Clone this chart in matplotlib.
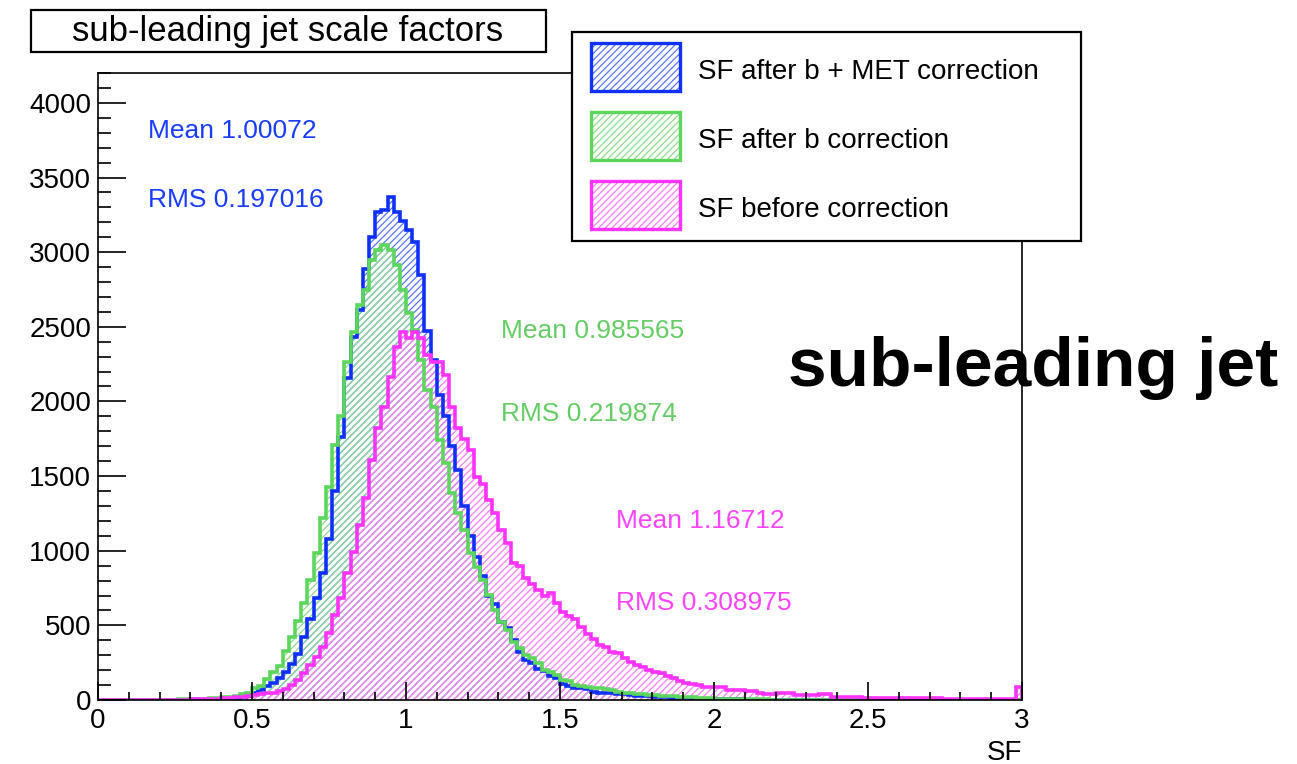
import numpy as np
import matplotlib
matplotlib.use('Agg')
import matplotlib.pyplot as plt
from matplotlib.patches import Rectangle
from matplotlib.ticker import MultipleLocator, FormatStrFormatter

plt.rcParams['font.family'] = ['Liberation Sans', 'DejaVu Sans']
plt.rcParams['hatch.linewidth'] = 0.9

W, H = 1297, 764

# histogram binning: 150 bins between 0 and 3
sf_min, sf_max, n_bins = 0.0, 3.0, 150

sf_after_b_met = [
    0, 0, 0, 0, 0, 0, 0, 0, 1, 1,
    1, 2, 2, 3, 3, 4, 5, 6, 8, 10,
    10, 12, 15, 18, 24, 50, 67, 95, 115, 150,
    190, 240, 310, 420, 540, 680, 850, 1080, 1400, 1760,
    2160, 2430, 2610, 2890, 3100, 3270, 3280, 3370, 3270, 3210,
    3150, 3070, 2850, 2470, 2280, 2040, 1900, 1700, 1540, 1300,
    1100, 960, 830, 700, 640, 520, 480, 400, 320, 265,
    245, 205, 195, 160, 150, 105, 95, 82, 78, 72,
    55, 50, 48, 45, 42, 38, 35, 30, 28, 25,
    22, 20, 18, 15, 14, 12, 10, 9, 8, 7,
    6, 5, 5, 4, 4, 3, 3, 3, 2, 2,
    2, 2, 1, 1, 1, 1, 1, 1, 1, 1,
    0, 0, 0, 0, 0, 0, 0, 0, 0, 0,
    0, 0, 0, 0, 0, 0, 0, 0, 0, 0,
    0, 0, 0, 0, 0, 0, 0, 0, 0, 3,
]

sf_after_b = [
    0, 0, 0, 0, 0, 0, 1, 1, 1, 2,
    2, 3, 3, 4, 5, 6, 7, 9, 11, 14,
    18, 22, 30, 40, 50, 80, 95, 140, 190, 230,
    330, 420, 530, 650, 805, 985, 1220, 1430, 1710, 1900,
    2265, 2466, 2647, 2747, 2948, 3015, 3050, 3015, 2915, 2747,
    2593, 2479, 2278, 2077, 1963, 1742, 1588, 1387, 1253, 1139,
    985, 891, 804, 703, 603, 523, 469, 389, 348, 301,
    280, 248, 201, 190, 168, 134, 125, 100, 95, 90,
    80, 78, 72, 65, 54, 50, 45, 40, 38, 35,
    32, 30, 27, 25, 22, 20, 18, 15, 13, 11,
    10, 9, 8, 7, 6, 5, 5, 4, 4, 3,
    3, 3, 2, 2, 2, 2, 1, 1, 1, 1,
    0, 0, 0, 0, 0, 0, 0, 0, 0, 0,
    0, 0, 0, 0, 0, 0, 0, 0, 0, 0,
    0, 0, 0, 0, 0, 0, 0, 0, 0, 3,
]

sf_before = [
    0, 0, 0, 0, 0, 0, 0, 1, 1, 1,
    2, 2, 2, 3, 3, 4, 5, 6, 8, 10,
    12, 15, 18, 22, 28, 35, 40, 45, 50, 62,
    75, 100, 134, 181, 235, 288, 355, 450, 570, 680,
    850, 990, 1170, 1350, 1610, 1820, 1960, 2164, 2365, 2466,
    2425, 2466, 2425, 2311, 2265, 2265, 2178, 1963, 1822, 1750,
    1675, 1494, 1450, 1340, 1250, 1139, 1050, 918, 900, 817,
    780, 740, 700, 717, 650, 590, 560, 545, 490, 440,
    410, 370, 355, 320, 315, 280, 255, 235, 220, 200,
    190, 180, 160, 145, 125, 115, 110, 100, 90, 87,
    87, 85, 70, 67, 65, 60, 62, 45, 42, 40,
    45, 45, 45, 33, 33, 33, 33, 38, 38, 22,
    22, 22, 22, 22, 15, 15, 15, 15, 15, 15,
    15, 12, 12, 12, 12, 12, 12, 10, 8, 7,
    7, 7, 7, 7, 7, 7, 7, 7, 7, 85,
]

series = [sf_after_b_met, sf_after_b, sf_before]
labels = ['SF after b + MET correction', 'SF after b correction', 'SF before correction']
means = ['1.00072', '0.985565', '1.16712']
rms_values = ['0.197016', '0.219874', '0.308975']
title = 'sub-leading jet scale factors'
tag = 'sub-leading jet'

line_colors = ['#1030ff', '#5cd65c', '#ff33ff']
hatch_colors = ['#5a74ff', '#8cdc8c', '#ff7cff']
text_colors = ['#1a3cff', '#66cc66', '#ff44ff']


def fx(x):
    return x / W


def fy(y):
    return 1 - y / H


fig = plt.figure(figsize=(W / 100, H / 100), dpi=100)
ax = fig.add_axes([fx(98), fy(700), 924 / W, 627 / H])

edges = np.linspace(sf_min, sf_max, n_bins + 1)
for vals, hc in zip(series, hatch_colors):
    ax.stairs(vals, edges, fill=True, facecolor='none', edgecolor=hc,
              hatch='/////', linewidth=0)
for vals, lc in zip(series, line_colors):
    ax.stairs(vals, edges, color=lc, linewidth=2.6)

ax.set_xlim(0, 3)
ax.set_ylim(0, 4200)
ax.xaxis.set_major_locator(MultipleLocator(0.5))
ax.xaxis.set_minor_locator(MultipleLocator(0.1))
ax.yaxis.set_major_locator(MultipleLocator(500))
ax.yaxis.set_minor_locator(MultipleLocator(100))
ax.xaxis.set_major_formatter(FormatStrFormatter('%g'))
ax.tick_params(which='both', direction='in', top=False, right=False, width=1.2)
ax.tick_params(axis='y', which='major', length=20, labelsize=20, pad=5)
ax.tick_params(axis='y', which='minor', length=9.5)
ax.tick_params(axis='x', which='major', length=13, labelsize=20, pad=6)
ax.tick_params(axis='x', which='minor', length=6)
for sp in ax.spines.values():
    sp.set_linewidth(1.2)

fig.text(fx(1022), fy(760), 'SF', fontsize=20, ha='right', va='baseline')

# stats text
stat_pos = [(148, 138, 207), (501, 338, 421), (616, 528, 610)]
for (x, ym, yr), m, r, c in zip(stat_pos, means, rms_values, text_colors):
    fig.text(fx(x), fy(ym), 'Mean ' + m, fontsize=19, color=c, va='baseline')
    fig.text(fx(x), fy(yr), 'RMS ' + r, fontsize=19, color=c, va='baseline')

# title box
fig.add_artist(Rectangle((fx(31), fy(52)), 515 / W, 42 / H, transform=fig.transFigure,
                         facecolor='white', edgecolor='black', linewidth=1.6))
fig.text(fx(288), fy(41), title, fontsize=25, ha='center', va='baseline')

# legend
fig.add_artist(Rectangle((fx(572), fy(241)), 509 / W, 209 / H, transform=fig.transFigure,
                         facecolor='white', edgecolor='black', linewidth=1.6, zorder=5))
sw_tops = [43, 112, 181]
text_base = [79, 148, 217]
for top, base, lab, lc, hc in zip(sw_tops, text_base, labels, line_colors, hatch_colors):
    fig.add_artist(Rectangle((fx(591), fy(top + 48)), 89 / W, 48 / H, transform=fig.transFigure,
                             facecolor='none', edgecolor=hc, hatch='/////', linewidth=0, zorder=6))
    fig.add_artist(Rectangle((fx(591), fy(top + 48)), 89 / W, 48 / H, transform=fig.transFigure,
                             facecolor='none', edgecolor=lc, linewidth=2.4, zorder=6))
    fig.text(fx(698), fy(base), lab, fontsize=20, va='baseline', zorder=7)

fig.text(fx(788), fy(386), tag, fontsize=50, fontweight='bold', va='baseline')

fig.savefig('out.png', dpi=100)
